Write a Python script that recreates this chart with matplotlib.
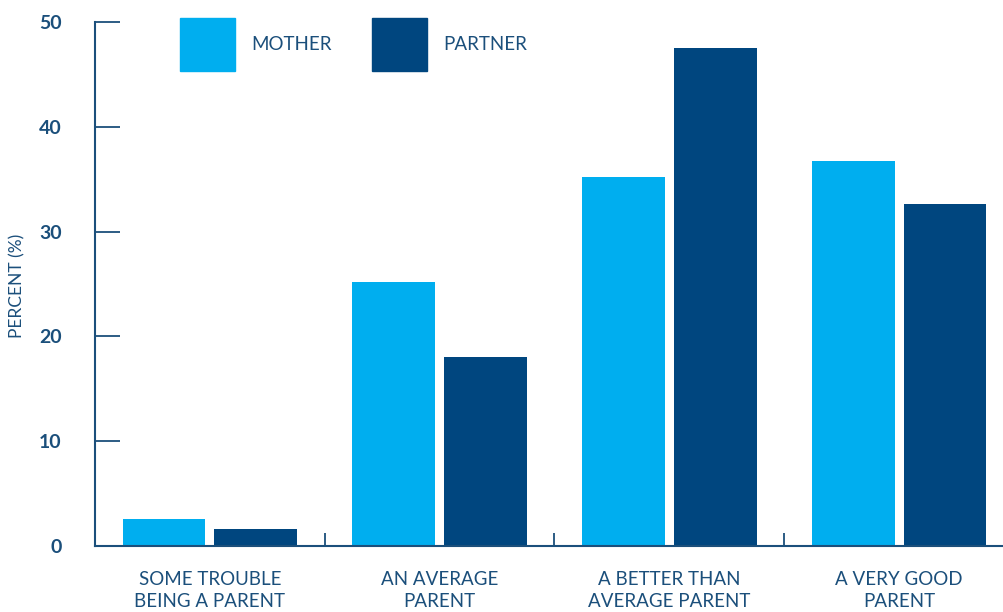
import matplotlib
matplotlib.use("Agg")
import matplotlib.pyplot as plt
from matplotlib.patches import Rectangle
import numpy as np

categories = ["SOME TROUBLE\nBEING A PARENT", "AN AVERAGE\nPARENT",
              "A BETTER THAN\nAVERAGE PARENT", "A VERY GOOD\nPARENT"]
mother = [2.6, 25.2, 35.2, 36.7]
partner = [1.6, 18.0, 47.5, 32.6]
series_names = ["MOTHER", "PARTNER"]
y_ticks = [0, 10, 20, 30, 40, 50]

C_MOTHER = "#00AEEF"
C_PARTNER = "#00467F"
C_TEXT = "#1B4F7B"
FONT = ["Lato", "DejaVu Sans"]

plt.rcParams["font.family"] = FONT

W, H = 1004, 612
fig = plt.figure(figsize=(W / 100, H / 100), dpi=100)
# axes spans x 95..1014 px and y 22..546 px (top origin)
ax = fig.add_axes([95 / W, (H - 546) / H, 919 / W, 524 / H])

x = np.arange(len(categories)) + 0.5
bw = 0.36
off = 0.2
ax.bar(x - off, mother, bw, color=C_MOTHER, zorder=2)
ax.bar(x + off, partner, bw, color=C_PARTNER, zorder=2)

ax.set_xlim(0, len(categories))
ax.set_ylim(0, 50)

for s in ["top", "right"]:
    ax.spines[s].set_visible(False)
for s in ["left", "bottom"]:
    ax.spines[s].set_color(C_TEXT)
    ax.spines[s].set_linewidth(1.5)

ax.set_yticks(y_ticks)
ax.set_yticklabels([str(v) for v in y_ticks], fontsize=14, fontweight="bold", color=C_TEXT)
ax.tick_params(axis="y", direction="in", length=18, width=1.3, color=C_TEXT, pad=24)

ax.set_xticks([1, 2, 3])
ax.set_xticklabels([])
ax.tick_params(axis="x", direction="in", length=9.5, width=1.3, color=C_TEXT)

for xi, lab in zip(x, categories):
    ax.text(xi, -2.4, lab, ha="center", va="top", fontsize=13.5, color=C_TEXT,
            linespacing=1.32, transform=ax.transData, clip_on=False)

fig.text(17 / W, 1 - 286 / H, "PERCENT (%)", rotation=90, ha="center", va="center",
         fontsize=12.5, color=C_TEXT)

# legend swatches and labels
legend_items = [(180, C_MOTHER, series_names[0]), (372, C_PARTNER, series_names[1])]
for px, col, name in legend_items:
    fig.patches.append(Rectangle((px / W, 1 - 71 / H), 55 / W, 53 / H,
                                 transform=fig.transFigure, color=col))
    fig.text((px + 71) / W, 1 - 45 / H, name, ha="left", va="center",
             fontsize=13.5, color=C_TEXT)

fig.savefig("out.png", dpi=100)
